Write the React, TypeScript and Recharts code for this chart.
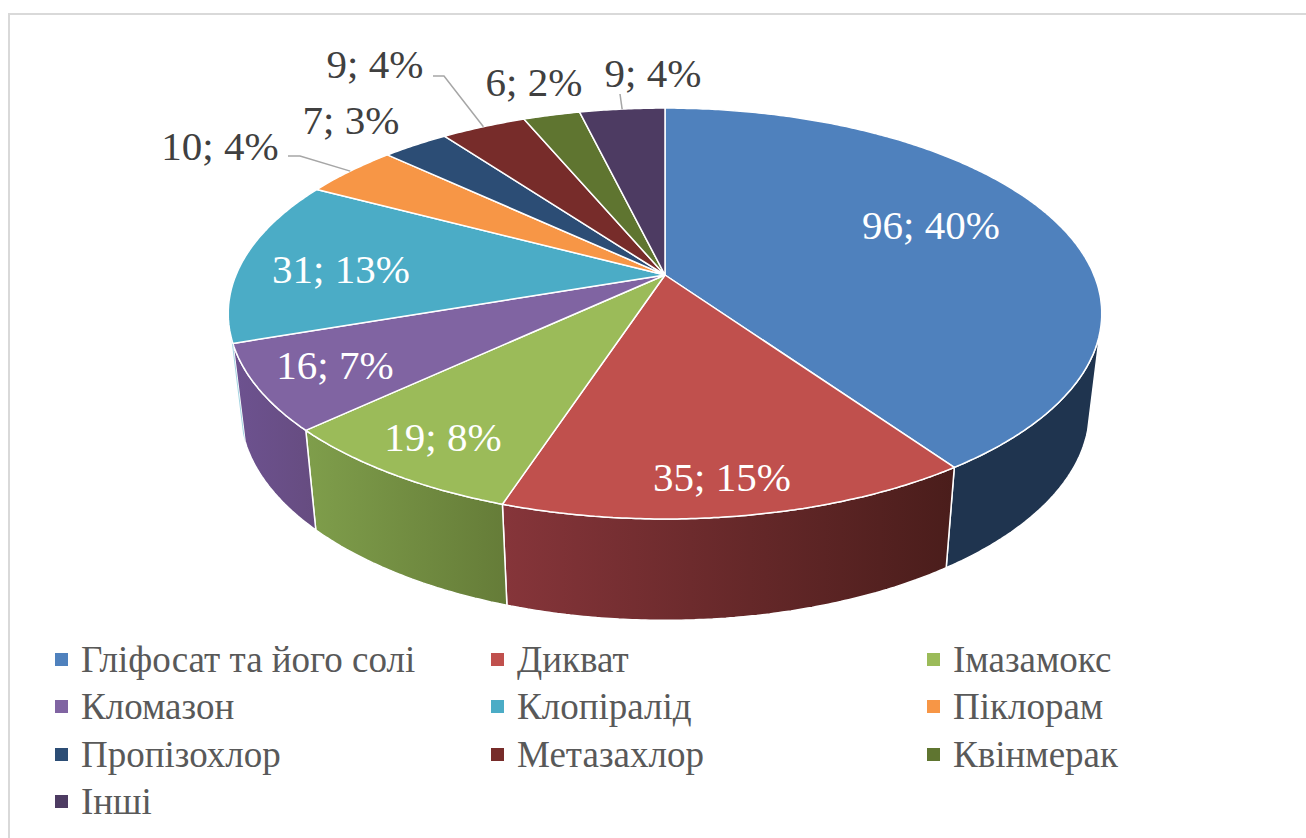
import React from 'react'
import { PieChart, Pie, Legend } from 'recharts'

const names = ['Гліфосат та його солі', 'Дикват', 'Імазамокс', 'Кломазон', 'Клопіралід', 'Піклорам', 'Пропізохлор', 'Метазахлор', 'Квінмерак', 'Інші']
const values = [96, 35, 19, 16, 31, 10, 7, 9, 6, 9]
const shares = [40, 15, 8, 7, 13, 4, 3, 4, 2, 4]
const colors = ['#4f81bd', '#c0504d', '#9bbb59', '#8064a2', '#4bacc6', '#f79646', '#2c4d75', '#772c2a', '#5f7530', '#4d3b62']

const data = names.map((name, i) => ({ name, value: values[i], fill: colors[i], share: shares[i] }))

// side wall shades, left to right
const wallShades: Record<number, string[]> = {
  0: ['#1f344f', '#1f344f'],
  1: ['#86353a', '#4a1d1b'],
  2: ['#7f9e4b', '#657c38'],
  3: ['#6d5290', '#664c80'],
  4: ['#a5d5e2', '#a5d5e2'],
}

// label centres and leader elbows
const labelSpots = [[931, 225], [722, 477], [443, 437], [335, 365], [341, 269], [220, 146], [351, 120], [375, 64], [534, 82], [653, 73]]
const leaders: Record<number, number[][]> = {
  5: [[288, 156], [300, 156]],
  7: [[433, 76], [444, 76]],
  9: [[620, 94]],
}

const CX = 665
const CY = 275
const RADIUS = 429
const TILT = 0.462 // y squash of the disc
const PERSP = 0.1875 // far edge shrinks, near edge grows
const WALL_SCALE_X = 0.972
const WALL_SCALE_Y = 1.02
const WALL_CY = 371.5
const WALL_FROM = 106
const WALL_TO = 253

// theta: degrees clockwise from 12 o'clock
function project(theta: number, r: number) {
  const t = (theta * Math.PI) / 180
  const d = 1 + PERSP * Math.cos(t)
  return { dx: (r * Math.sin(t)) / d, dy: (-r * TILT * Math.cos(t)) / d }
}

function topPoint(theta: number, cx: number, cy: number, r: number) {
  const p = project(theta, r)
  return [cx + p.dx, cy + p.dy]
}

function lowPoint(theta: number, cx: number, r: number) {
  const p = project(theta, r)
  return [cx + p.dx * WALL_SCALE_X, WALL_CY + p.dy * WALL_SCALE_Y]
}

function arc(from: number, to: number, fn: (t: number) => number[]) {
  const pts: number[][] = []
  const n = Math.max(2, Math.ceil(Math.abs(to - from) * 2))
  for (let i = 0; i <= n; i++) pts.push(fn(from + ((to - from) * i) / n))
  return pts
}

const toPath = (pts: number[][]) => 'M' + pts.map((p) => `${p[0].toFixed(1)},${p[1].toFixed(1)}`).join('L') + 'Z'

function DiscSlice(props: any) {
  const { cx, cy, outerRadius, startAngle, endAngle, fill, index } = props
  const a = 90 - startAngle
  const b = 90 - endAngle
  const top = arc(a, b, (t) => topPoint(t, cx, cy, outerRadius))
  const wa = Math.max(a, WALL_FROM)
  const wb = Math.min(b, WALL_TO)
  const shades = wallShades[index]
  const hasWall = shades && wb > wa
  const gradId = `wall-${index}`
  return (
    <g>
      {hasWall && (
        <>
          <defs>
            <linearGradient id={gradId} x1="0" y1="0" x2="1" y2="0">
              <stop offset="0%" stopColor={shades[0]} />
              <stop offset="100%" stopColor={shades[1]} />
            </linearGradient>
          </defs>
          <path
            d={toPath([
              ...arc(wa, wb, (t) => topPoint(t, cx, cy, outerRadius)),
              ...arc(wb, wa, (t) => lowPoint(t, cx, outerRadius)),
            ])}
            fill={`url(#${gradId})`}
            stroke="#fff"
            strokeWidth={index === 4 ? 0 : 1.5}
          />
        </>
      )}
      <path d={toPath([[cx, cy], ...top])} fill={fill} stroke="#fff" strokeWidth={1.5} strokeLinejoin="round" />
    </g>
  )
}

function SliceLabel(props: any) {
  const { cx, cy, outerRadius, midAngle, index, value, payload } = props
  const [x, y] = labelSpots[index]
  const inside = index < 5
  const elbows = leaders[index]
  const edge = topPoint(90 - midAngle, cx, cy, outerRadius)
  return (
    <g>
      {elbows && (
        <polyline points={[...elbows, edge].map((p) => p.join(',')).join(' ')} fill="none" stroke="#a6a6a6" strokeWidth={1.5} />
      )}
      <text
        x={x}
        y={y}
        textAnchor="middle"
        dominantBaseline="central"
        fontFamily="'Liberation Serif', serif"
        fontSize={41}
        fill={inside ? '#ffffff' : '#404040'}
      >
        {`${value}; ${payload.share}%`}
      </text>
    </g>
  )
}

function LegendGrid({ payload }: any) {
  return (
    <div style={{ position: 'relative', width: 1306, height: 198 }}>
      {(payload || []).map((item: any, i: number) => (
        <div
          key={item.value}
          style={{
            position: 'absolute',
            left: [55, 491, 927][i % 3],
            top: [0, 47.5, 95, 142][Math.floor(i / 3)],
            height: 42,
            display: 'flex',
            alignItems: 'center',
            whiteSpace: 'nowrap',
            fontFamily: "'Liberation Serif', serif",
            fontSize: 37,
            color: '#595959',
          }}
        >
          <span style={{ width: 13, height: 13, background: item.color, marginRight: 13, display: 'inline-block' }} />
          {item.value}
        </div>
      ))}
    </div>
  )
}

export default function App() {
  return (
    <div style={{ position: 'absolute', left: 0, top: 0, width: 1306, height: 838, overflow: 'hidden', background: '#fff' }}>
      <div style={{ position: 'absolute', left: 8, top: 13, right: 0, bottom: 0, borderTop: '2px solid #d9d9d9', borderLeft: '2px solid #d9d9d9' }} />
      <PieChart width={1306} height={838} margin={{ top: 0, right: 0, bottom: 0, left: 0 }}>
        <Pie
          data={data}
          dataKey="value"
          nameKey="name"
          cx={CX}
          cy={CY}
          outerRadius={RADIUS}
          startAngle={90}
          endAngle={-270}
          shape={DiscSlice}
          label={SliceLabel}
          labelLine={false}
          isAnimationActive={false}
        />
        <Legend content={LegendGrid} itemSorter={null} wrapperStyle={{ left: 0, top: 638, width: 1306 }} />
      </PieChart>
    </div>
  )
}
